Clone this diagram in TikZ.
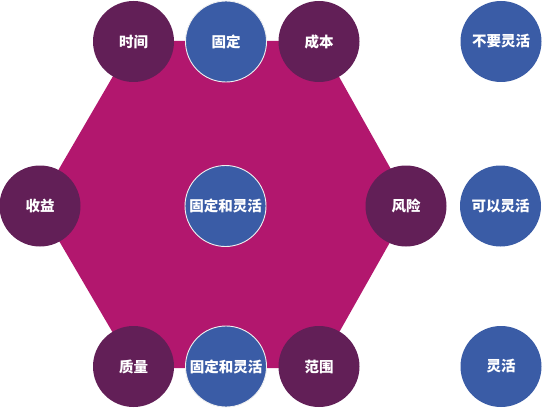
\documentclass[tikz,border=0pt]{standalone}
\usepackage{fontspec}
\newfontfamily\cjk{Noto Sans CJK SC}
\definecolor{hexc}{HTML}{B2176E}
\definecolor{purp}{HTML}{621F57}
\definecolor{blu}{HTML}{3A5CA6}
\tikzset{
  bub/.style={circle, minimum size=81pt, inner sep=0pt, text=white,
    font=\cjk\bfseries\fontsize{14.5pt}{16pt}\selectfont},
  pbub/.style={bub, fill=purp},
  bbub/.style={bub, fill=blu},
  rbub/.style={bbub, draw=white!88!gray, line width=0.9pt},
}
\begin{document}
\begin{tikzpicture}[x=1pt,y=-1pt]
\useasboundingbox (0,0) rectangle (543,409);
\coordinate (h1) at (133.5,41);
\coordinate (h2) at (319,41);
\coordinate (h3) at (411,205);
\coordinate (h4) at (319,368);
\coordinate (h5) at (133.5,368);
\coordinate (h6) at (38,205);
\fill[hexc] (h1) -- (h2) -- (h3) -- (h4) -- (h5) -- (h6) -- cycle;
\node[pbub] (shijian) at (133.5,41.5) {时间};
\node[rbub] (guding) at (226,41.5) {固定};
\node[pbub] (chengben) at (319,41.5) {成本};
\node[bbub] (buyao) at (501,41.5) {不要灵活};
\node[pbub] (shouyi) at (40,206) {收益};
\node[rbub] (center) at (225.5,206) {固定和灵活};
\node[pbub] (fengxian) at (406,206) {风险};
\node[bbub] (keyi) at (500.5,206) {可以灵活};
\node[pbub] (zhiliang) at (133.5,366.5) {质量};
\node[rbub] (bottom) at (226,366.5) {固定和灵活};
\node[pbub] (fanwei) at (319,366.5) {范围};
\node[bbub] (linghuo) at (501,366.5) {灵活};
\end{tikzpicture}
\end{document}
